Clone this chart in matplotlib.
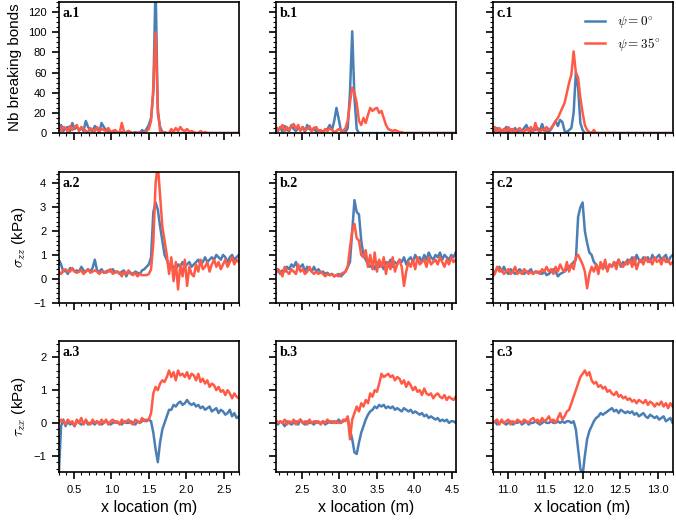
import numpy as np
import matplotlib
matplotlib.use("Agg")
from matplotlib import pyplot as plt
from matplotlib.ticker import MultipleLocator

plt.rcParams['font.family'] = ['Liberation Sans', 'DejaVu Sans']
plt.rcParams['mathtext.fontset'] = 'cm'

# x grids (one per column), sampling step 0.03 m
x_a = np.arange(81) * 0.03 + 0.30
x_b = np.arange(81) * 0.03 + 2.15
x_c = np.arange(81) * 0.03 + 10.80

# row 1: number of breaking bonds
bonds_a_0 = [3,8,2,5,6,2,10,4,6,3,5,2,12,6,3,2,7,4,1,10,
             6,3,2,1,0,2,1,0,1,0,1,2,0,0,1,0,0,3,1,4,
             8,15,40,150,20,6,1,0,0,0,0,0,0,0,0,0,0,0,0,0,
             0,0,0,0,0,0,0,0,0,0,0,0,0,0,0,0,0,0,0,0,0]
bonds_a_35 = [8,2,6,5,1,7,3,6,8,2,6,4,2,1,5,3,2,6,2,4,
              3,2,5,1,2,3,1,0,10,1,0,2,1,0,0,0,1,0,0,2,
              4,12,45,100,25,2,0,1,0,0,4,1,5,2,6,3,2,4,1,2,
              1,0,0,2,0,1,0,0,0,0,0,0,0,0,0,0,0,0,0,0,0]
bonds_b_0 = [5,2,6,1,7,3,2,8,4,2,5,3,6,1,8,4,2,5,1,3,
             2,1,3,4,8,3,12,25,14,2,0,1,5,40,101,35,4,0,0,0,
             0,0,0,0,0,0,0,0,0,0,0,0,0,0,0,0,0,0,0,0,
             0,0,0,0,0,0,0,0,0,0,0,0,0,0,0,0,0,0,0,0,0]
bonds_b_35 = [7,3,5,8,2,6,3,7,9,4,8,2,6,3,4,7,2,5,6,2,
              3,1,4,2,5,3,1,2,4,3,2,5,12,30,45,40,30,12,8,15,
              10,18,25,22,24,25,20,22,15,8,4,3,2,3,2,1,1,0,0,0,
              0,0,0,0,0,0,0,0,0,0,0,0,0,0,0,0,0,0,0,0,0]
bonds_c_0 = [6,1,5,0,3,2,6,1,4,2,5,1,3,2,5,8,3,2,4,3,
             5,2,9,3,2,1,4,8,12,7,13,11,2,1,3,5,20,60,45,10,
             3,0,0,0,0,0,0,0,0,0,0,0,0,0,0,0,0,0,0,0,
             0,0,0,0,0,0,0,0,0,0,0,0,0,0,0,0,0,0,0,0,0]
bonds_c_35 = [2,6,1,5,2,4,1,6,2,4,1,3,5,2,1,4,2,6,1,10,
              3,1,4,2,6,3,5,8,12,15,20,25,30,40,50,58,81,60,55,35,
              20,8,3,1,0,3,0,0,0,0,0,0,0,0,0,0,0,0,0,0,
              0,0,0,0,0,0,0,0,0,0,0,0,0,0,0,0,0,0,0,0,0]

# row 2: sigma_zz (kPa)
szz_a_0 = [0.8,0.6,0.3,0.35,0.2,0.45,0.4,0.3,0.35,0.3,0.5,0.35,0.3,0.4,0.3,0.45,0.8,0.35,0.3,0.4,
           0.25,0.3,0.35,0.3,0.4,0.25,0.3,0.2,0.3,0.35,0.1,0.3,0.25,0.2,0.3,0.25,0.2,0.35,0.4,0.5,
           0.6,0.9,2.8,3.2,2.9,2.2,1.6,1.0,0.8,0.5,0.6,0.5,0.4,0.6,0.5,0.7,0.5,0.6,0.7,0.5,
           0.6,0.7,0.8,0.6,0.7,0.9,0.7,0.8,0.9,0.8,1.0,0.9,0.8,1.0,0.9,0.7,0.9,1.0,0.8,0.9,1.0]
szz_a_35 = [0.3,0.2,0.35,0.4,0.3,0.3,0.45,0.3,0.25,0.3,0.35,0.2,0.3,0.4,0.25,0.3,0.35,0.3,0.2,0.3,
            0.3,0.25,0.3,0.4,0.2,0.3,0.3,0.25,0.1,0.3,0.2,0.35,0.2,0.15,0.25,0.1,0.2,0.15,0.15,0.15,
            0.2,0.4,1.5,4.0,4.8,3.5,2.2,1.6,1.0,0.2,0.9,-0.1,0.7,-0.45,0.6,0.1,0.8,-0.3,0.5,0.2,
            0.1,0.6,0.3,0.8,0.4,0.5,0.7,0.3,0.6,0.8,0.5,0.7,0.4,0.6,0.8,0.5,0.7,0.9,0.6,0.8,0.7]
szz_b_0 = [0.3,0.4,0.2,0.35,0.3,0.5,0.4,0.6,0.5,0.7,0.4,0.5,0.6,0.3,0.5,0.4,0.3,0.5,0.3,0.4,
           0.25,0.3,0.2,0.25,0.15,0.2,0.1,0.15,0.2,0.1,0.2,0.3,0.5,0.7,2.0,3.3,2.8,2.7,1.6,1.0,
           0.8,0.6,0.5,0.6,0.4,0.7,0.5,0.6,0.4,0.7,0.6,0.8,0.5,0.7,0.6,0.8,0.7,0.9,0.6,0.8,
           0.9,0.7,1.0,0.8,0.9,0.7,1.0,0.8,1.1,0.9,0.8,1.0,0.9,1.1,0.8,1.0,0.9,0.8,1.0,0.9,1.1]
szz_b_35 = [0.2,0.4,0.3,0.1,0.5,0.3,0.2,0.4,0.3,0.2,0.6,0.3,0.4,0.2,0.3,0.5,0.3,0.2,0.3,0.2,
            0.3,0.2,0.1,0.2,0.15,0.2,0.1,0.15,0.1,0.2,0.25,0.3,0.5,1.3,2.0,2.3,1.7,1.6,1.0,0.9,
            1.2,0.5,1.0,0.4,1.1,0.3,0.8,0.5,0.9,0.2,0.7,0.4,0.9,0.3,0.6,0.8,0.5,-0.3,0.3,0.7,
            0.5,0.8,0.4,0.9,0.6,0.7,0.8,0.5,0.9,0.6,0.7,0.8,0.6,0.9,0.7,0.5,0.8,0.6,0.9,0.7,0.8]
szz_c_0 = [0.2,0.3,0.4,0.5,0.3,0.5,0.3,0.2,0.4,0.3,0.2,0.3,0.4,0.3,0.2,0.3,0.3,0.4,0.2,0.3,
           0.25,0.3,0.2,0.3,0.15,0.2,0.3,0.4,0.3,0.1,0.2,0.25,0.3,0.4,0.5,0.6,0.7,0.8,2.6,3.0,
           3.2,2.0,1.5,1.1,1.0,0.7,0.6,0.4,0.5,0.6,0.5,0.4,0.6,0.5,0.7,0.6,0.8,0.5,0.7,0.6,
           0.8,0.7,0.9,0.6,1.0,0.8,0.7,0.9,0.8,0.9,0.7,1.0,0.8,0.9,1.0,0.8,0.9,1.0,0.7,0.9,1.0]
szz_c_35 = [0.1,0.2,0.5,0.3,0.4,0.2,0.3,0.4,0.2,0.3,0.5,0.2,0.3,0.2,0.4,0.3,0.2,0.3,0.2,0.3,
            0.3,0.2,0.4,0.3,0.5,0.3,0.4,0.2,0.5,0.3,0.6,0.4,0.3,0.7,0.3,0.6,0.4,0.9,1.0,0.8,
            0.6,0.3,-0.4,0.2,0.5,0.3,0.6,0.2,0.7,0.4,0.8,0.3,0.6,0.5,0.7,0.4,0.8,0.6,0.5,0.7,
            0.6,0.8,0.5,0.9,0.4,0.7,0.8,0.6,0.9,0.7,0.8,0.6,0.9,0.7,0.8,0.6,0.9,0.7,0.8,0.6,0.7]

# row 3: tau_zx (kPa)
tzx_a_0 = [-1.6,-0.1,0.1,-0.1,0.05,-0.05,0.0,-0.1,0.05,0.0,-0.05,0.0,0.05,-0.05,0.0,0.0,-0.05,0.05,0.0,-0.05,
           0.0,0.05,0.0,-0.05,0.0,0.05,0.0,0.0,-0.05,0.05,0.0,0.0,0.05,0.0,-0.05,0.05,0.0,0.05,0.1,0.05,
           0.1,0.05,-0.3,-0.8,-1.2,-0.6,-0.2,0.0,0.2,0.4,0.4,0.55,0.5,0.6,0.65,0.55,0.6,0.7,0.6,0.55,
           0.6,0.5,0.55,0.45,0.5,0.4,0.45,0.5,0.35,0.4,0.45,0.3,0.4,0.35,0.25,0.3,0.4,0.2,0.3,0.15,0.2]
tzx_a_35 = [0.0,0.1,0.05,-0.05,0.1,0.0,0.05,-0.1,0.1,0.0,0.15,-0.05,0.1,0.0,-0.05,0.1,0.0,0.05,-0.05,0.1,
            0.0,0.1,-0.05,0.05,0.1,0.0,0.05,-0.05,0.1,0.0,0.05,0.1,0.0,-0.05,0.1,0.05,0.0,0.15,0.05,0.1,
            0.1,0.3,0.9,1.1,1.0,1.2,1.3,1.25,1.4,1.6,1.4,1.55,1.3,1.6,1.45,1.5,1.4,1.55,1.35,1.5,
            1.45,1.3,1.5,1.25,1.35,1.2,1.3,1.1,1.2,1.15,1.0,1.1,0.95,1.0,0.85,1.0,0.9,0.75,0.9,0.8,0.75]
tzx_b_0 = [0.0,-0.05,0.05,0.0,-0.1,0.05,0.0,-0.05,0.0,0.05,-0.05,0.1,0.0,-0.05,0.05,0.0,0.0,-0.05,0.05,0.0,
           0.0,0.05,-0.05,0.0,0.05,0.0,0.05,0.0,0.1,0.0,0.05,0.1,0.15,-0.2,-0.5,-0.9,-0.95,-0.6,-0.3,-0.1,
           0.1,0.25,0.35,0.4,0.5,0.45,0.55,0.5,0.55,0.45,0.5,0.45,0.5,0.4,0.45,0.4,0.35,0.45,0.4,0.35,
           0.4,0.3,0.35,0.3,0.25,0.3,0.2,0.25,0.15,0.2,0.15,0.1,0.15,0.05,0.1,0.05,0.1,0.0,0.05,0.05,0.0]
tzx_b_35 = [0.1,0.0,0.05,0.0,0.1,-0.05,0.05,0.0,0.1,-0.05,0.05,0.1,0.0,0.05,-0.05,0.1,0.0,0.05,0.0,0.05,
            -0.05,0.05,0.0,0.1,0.0,0.05,0.0,0.05,0.0,0.0,0.1,0.05,0.2,-0.5,0.1,0.3,0.5,0.35,0.6,0.5,
            0.7,0.6,0.9,0.8,1.0,0.95,1.2,1.5,1.4,1.45,1.5,1.4,1.45,1.3,1.4,1.35,1.2,1.3,1.1,1.25,
            1.15,1.0,1.1,0.95,1.0,0.85,1.05,0.9,0.85,0.9,0.75,0.85,0.9,0.8,0.75,0.85,0.7,0.8,0.75,0.7,0.8]
tzx_c_0 = [0.0,0.05,-0.05,0.0,0.05,0.0,-0.05,0.0,0.05,-0.05,0.0,0.0,0.05,-0.05,0.0,0.05,-0.05,0.0,0.0,0.05,
           0.0,-0.05,0.0,0.05,0.0,0.0,0.05,0.0,0.0,0.05,0.0,0.05,0.0,0.05,0.05,0.0,0.05,-0.2,-0.8,-1.4,
           -1.6,-1.0,-0.5,-0.25,-0.1,0.05,0.15,0.2,0.3,0.25,0.3,0.35,0.4,0.45,0.35,0.4,0.3,0.4,0.35,0.3,
           0.35,0.3,0.35,0.25,0.3,0.2,0.25,0.3,0.2,0.15,0.25,0.2,0.15,0.2,0.1,0.15,0.2,0.05,0.1,0.15,0.0]
tzx_c_35 = [0.0,0.05,0.1,-0.05,0.1,0.0,0.05,0.1,-0.05,0.05,0.0,0.1,0.05,0.0,0.1,0.05,0.0,0.1,0.15,0.05,
            0.1,0.0,0.15,0.05,0.1,0.2,0.05,0.1,0.0,0.15,0.3,0.1,0.2,0.35,0.4,0.6,0.8,1.0,1.2,1.4,
            1.5,1.6,1.45,1.55,1.3,1.2,1.25,1.1,1.15,1.05,1.1,0.95,1.0,0.9,0.85,0.95,0.8,0.85,0.75,0.8,
            0.7,0.75,0.65,0.7,0.6,0.7,0.65,0.6,0.7,0.55,0.65,0.6,0.5,0.6,0.55,0.65,0.5,0.6,0.45,0.6,0.5]

xs = [x_a, x_b, x_c]
xlims = [(0.3, 2.7), (2.15, 4.55), (10.8, 13.2)]
rows = [
    [(bonds_a_0, bonds_a_35), (bonds_b_0, bonds_b_35), (bonds_c_0, bonds_c_35)],
    [(szz_a_0, szz_a_35), (szz_b_0, szz_b_35), (szz_c_0, szz_c_35)],
    [(tzx_a_0, tzx_a_35), (tzx_b_0, tzx_b_35), (tzx_c_0, tzx_c_35)],
]
ylims = [(0, 130), (-1, 4.5), (-1.5, 2.5)]
ymajor = [20, 1, 1]
yminor = [5, 0.2, 0.2]
ylabels = ["Nb breaking bonds", r"$\sigma_{zz}$ (kPa)", r"$\tau_{zx}$ (kPa)"]
blue = '#4a7fb5'
red = '#ff5a46'

fig, axes = plt.subplots(3, 3, figsize=(6.76, 5.23), dpi=100)
fig.subplots_adjust(left=0.087, right=0.995, bottom=0.0975, top=0.996,
                    wspace=0.205, hspace=0.294)

for r in range(3):
    for c in range(3):
        ax = axes[r, c]
        y0, y35 = rows[r][c]
        ax.plot(xs[c], y0, color=blue, lw=1.8, label=r"$\psi = 0^{\circ}$")
        ax.plot(xs[c], y35, color=red, lw=1.8, label=r"$\psi = 35^{\circ}$")
        ax.set_xlim(*xlims[c])
        ax.set_ylim(*ylims[r])
        ax.xaxis.set_major_locator(MultipleLocator(0.5))
        ax.xaxis.set_minor_locator(MultipleLocator(0.1))
        ax.yaxis.set_major_locator(MultipleLocator(ymajor[r]))
        ax.yaxis.set_minor_locator(MultipleLocator(yminor[r]))
        ax.tick_params(which='major', direction='out', length=5, width=1.2,
                       labelsize=8, pad=4)
        ax.tick_params(which='minor', direction='out', length=2.5, width=0.8)
        for s in ax.spines.values():
            s.set_linewidth(1.2)
        if r < 2:
            ax.tick_params(labelbottom=False)
        else:
            ax.set_xlabel("x location (m)", fontsize=11.5)
        if c > 0:
            ax.tick_params(labelleft=False)
        else:
            ax.set_ylabel(ylabels[r], fontsize=11)
        ax.text(0.02, 0.96, "abc"[c] + "." + str(r + 1), transform=ax.transAxes,
                ha='left', va='top', fontsize=10, fontweight='bold',
                family='Liberation Serif')

axes[0, 2].legend(loc='upper right', frameon=False, fontsize=9.5, handlelength=1.55,
                  labelspacing=0.35, borderaxespad=0.5, handletextpad=0.9)

fig.savefig("out.png", dpi=100)
